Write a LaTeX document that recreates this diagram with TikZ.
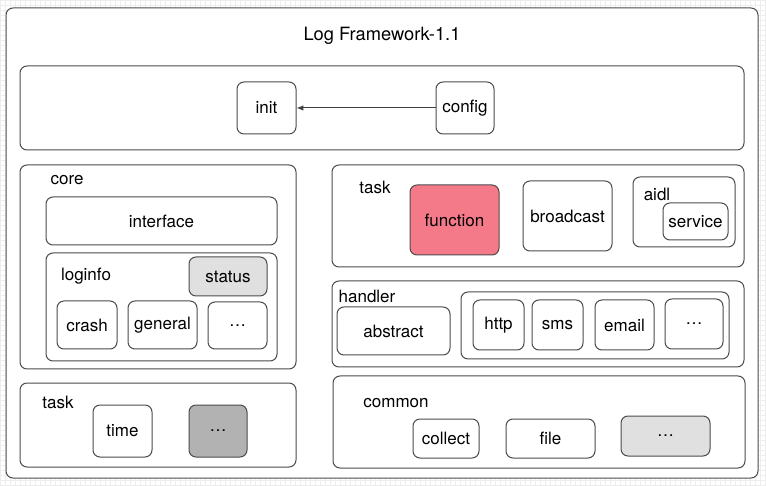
\documentclass[tikz,border=0pt]{standalone}
\usepackage{fontspec}
\setmainfont{TeX Gyre Heros}
\usepackage{tikz}
\usetikzlibrary{arrows.meta,positioning}

\begin{document}
\begin{tikzpicture}[
    x=1pt, y=-1pt,
    font=\fontsize{17}{20}\selectfont,
    box/.style={draw=black!70, line width=1pt, rounded corners=7pt,
                inner sep=0pt, align=center, fill=white},
    wh/.style 2 args={minimum width=#1pt, minimum height=#2pt},
    tag/.style={inner sep=0pt, anchor=center},
    arrow/.style={-{Latex[length=2.4mm,width=1.9mm]}, line width=1pt, black!75}
]
% canvas
\useasboundingbox (0,0) rectangle (766,486);
\fill[white] (0,0) rectangle (766,486);
\draw[black!7, line width=0.3pt, step=5pt] (0,0) grid (766,486);

\node[box, wh={752}{470}] (frame) at (382,243) {};
\node[tag, font=\fontsize{18.3}{21}\selectfont] (title) at (382,36) {Log Framework-1.1};

% top layer
\node[box, wh={724}{84}] (top) at (382,108) {};
\node[box, wh={59}{52}] (init) at (266.5,108) {init};
\node[box, wh={58}{52}] (config) at (465,108) {config};
\draw[arrow] (config) -- (init);

% core
\node[box, wh={276}{204}] (core) at (158,267) {};
\node[tag] (corelbl) at (67,180) {core};
\node[box, wh={231}{48}] (iface) at (161.5,221) {interface};
\node[box, wh={231}{108}] (loginfo) at (161.5,307) {};
\node[tag] (loginfolbl) at (86,276) {loginfo};
\node[box, wh={78}{39}, fill=black!12] (status) at (228,276.5) {status};
\node[box, wh={60}{48}] (crash) at (87,325) {crash};
\node[box, wh={69}{48}] (general) at (162.5,325) {general};
\node[box, wh={59}{47}] (infomore) at (237.5,325.5) {\dots};

% task (left)
\node[box, wh={276}{84}] (tasktime) at (158,425) {};
\node[tag] (tasktimelbl) at (58,402) {task};
\node[box, wh={59}{52}] (time) at (122.5,431) {time};
\node[box, wh={58}{52}, fill=black!30] (timemore) at (218,431) {\dots};

% task (right)
\node[box, wh={412}{102}] (taskfn) at (538,216) {};
\node[tag] (taskfnlbl) at (375,187) {task};
\node[box, wh={89}{70}, fill={rgb,255:red,244;green,122;blue,137}] (function) at (454.5,220) {function};
\node[box, wh={89}{70}] (broadcast) at (567.5,216) {broadcast};
\node[box, wh={102}{70}] (aidl) at (684,212) {};
\node[tag] (aidllbl) at (657,194) {aidl};
\node[box, wh={65}{37}] (service) at (695.5,221.5) {service};

% handler
\node[box, wh={412}{86}] (handler) at (538,324) {};
\node[tag] (handlerlbl) at (367,296) {handler};
\node[box, wh={113}{48}] (abstract) at (393.5,331) {abstract};
\node[box, wh={268}{67}] (impl) at (595,325.5) {};
\node[box, wh={51}{50}] (http) at (498.5,325) {http};
\node[box, wh={51}{50}] (sms) at (557.5,325) {sms};
\node[box, wh={59}{50}] (email) at (624.5,325) {email};
\node[box, wh={58}{50}] (implmore) at (694,324) {\dots};

% common
\node[box, wh={412}{92}] (common) at (539,422) {};
\node[tag] (commonlbl) at (396,403) {common};
\node[box, wh={66}{39}] (collect) at (446,438.5) {collect};
\node[box, wh={89}{39}] (file) at (550.5,438.5) {file};
\node[box, wh={89}{40}, fill=black!12] (commonmore) at (665.5,436) {\dots};
\end{tikzpicture}
\end{document}
